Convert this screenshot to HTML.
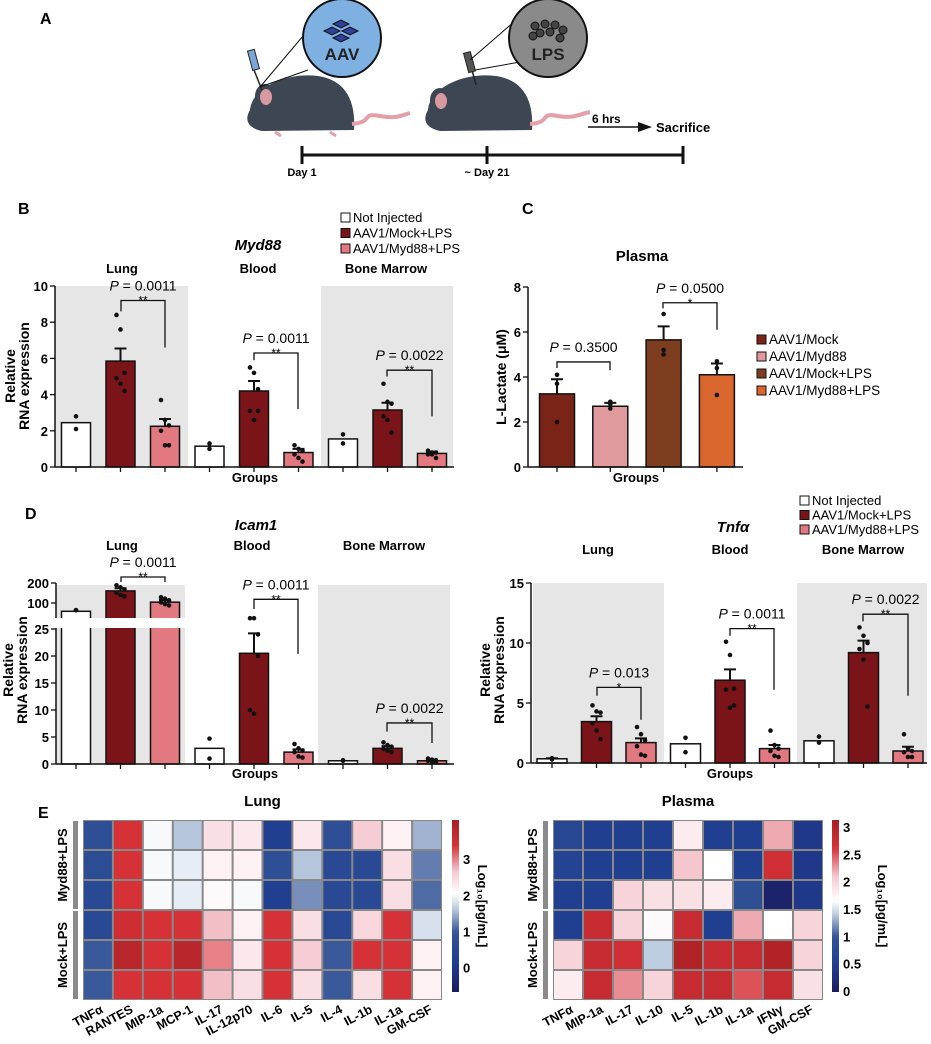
<!DOCTYPE html>
<html><head><meta charset="utf-8"><style>
html,body{margin:0;padding:0;background:#fff}
svg{display:block;font-family:"Liberation Sans",Arial,sans-serif}
</style></head><body>
<svg id="fig" xmlns="http://www.w3.org/2000/svg" width="931" height="1044" viewBox="0 0 931 1044">
<g>
<text x="40" y="24" font-size="16" font-weight="bold">A</text>
<g>
<path d="M250,110 C252,88 285,72 318,76 C345,80 356,100 354,130 L262,131 C248,128 244,120 250,110Z" fill="#3c4753"/>
<ellipse cx="265" cy="96" rx="10" ry="12" fill="#3c4753"/><ellipse cx="266" cy="97" rx="6" ry="8" fill="#d89aa0"/>
<path d="M352,124 C375,122 360,112 380,116 C395,119 400,116 410,113" stroke="#e4a0a8" stroke-width="4" fill="none"/>
<path d="M275,132 l6,4 M330,132 l6,4" stroke="#e4a0a8" stroke-width="3"/>
<line x1="262" y1="90" x2="254" y2="70" stroke="#222" stroke-width="1.5"/>
<rect x="250" y="50" width="7" height="20" fill="#7aa7d6" stroke="#222" transform="rotate(-15 253 60)"/>
<line x1="260" y1="87" x2="308" y2="70" stroke="#111"/><line x1="260" y1="87" x2="330" y2="4" stroke="#111"/>
<circle cx="342" cy="38" r="39" fill="#7fb0e2" stroke="#111" stroke-width="2"/>
<g fill="#2f3f9c" stroke="#111" stroke-width="1"><polygon points="333,24 341,20 349,24 341,28"/><polygon points="324,31 332,27 340,31 332,35"/><polygon points="342,31 350,27 358,31 350,35"/><polygon points="333,38 341,34 349,38 341,42"/></g>
<text x="342" y="60" font-size="17" font-weight="bold" text-anchor="middle" fill="#222">AAV</text>
</g>
<g>
<path d="M428,110 C430,88 463,72 496,76 C523,80 534,100 532,130 L440,131 C426,128 422,120 428,110Z" fill="#3c4753"/>
<ellipse cx="440" cy="100" rx="10" ry="12" fill="#3c4753"/><ellipse cx="441" cy="101" rx="6" ry="8" fill="#d89aa0"/>
<path d="M530,124 C553,122 538,112 558,116 C573,119 580,114 590,112" stroke="#e4a0a8" stroke-width="4" fill="none"/>
<line x1="476" y1="85" x2="472" y2="70" stroke="#222" stroke-width="1.5"/>
<rect x="466" y="52" width="7" height="20" fill="#555" stroke="#222" transform="rotate(-15 470 62)"/>
<line x1="475" y1="70" x2="520" y2="62" stroke="#111"/><line x1="470" y1="60" x2="530" y2="8" stroke="#111"/>
<circle cx="548" cy="38" r="39" fill="#8a8a8a" stroke="#111" stroke-width="2"/>
<g fill="#444" stroke="#111"><circle cx="535" cy="26" r="4"/><circle cx="545" cy="24" r="4"/><circle cx="555" cy="25" r="4"/><circle cx="563" cy="30" r="4"/><circle cx="540" cy="33" r="4"/><circle cx="550" cy="32" r="4"/><circle cx="560" cy="38" r="4"/><circle cx="533" cy="36" r="4"/></g>
<text x="548" y="60" font-size="17" font-weight="bold" text-anchor="middle" fill="#222">LPS</text>
</g>
<text x="592" y="123" font-size="12" font-weight="bold">6 hrs</text>
<line x1="588" y1="127" x2="640" y2="127" stroke="#111" stroke-width="1.5"/><polygon points="652,127 638,122 638,132" fill="#111"/>
<text x="656" y="132" font-size="13" font-weight="bold">Sacrifice</text>
<line x1="302" y1="155" x2="683" y2="155" stroke="#111" stroke-width="3"/>
<line x1="302" y1="146" x2="302" y2="164" stroke="#111" stroke-width="3"/><line x1="487" y1="146" x2="487" y2="164" stroke="#111" stroke-width="3"/><line x1="683" y1="146" x2="683" y2="164" stroke="#111" stroke-width="3"/>
<text x="302" y="176" font-size="11" font-weight="bold" text-anchor="middle">Day 1</text>
<text x="487" y="176" font-size="11" font-weight="bold" text-anchor="middle">~ Day 21</text>
</g>
</svg>
<script>
const NS='http://www.w3.org/2000/svg';
const svg=document.getElementById('fig');
function mk(tag,attrs,name,parent){const el=document.createElementNS(NS,tag);for(const k in attrs)el.setAttribute(k,attrs[k]);


(parent||svg).appendChild(el);return el;}
function tx(x,y,s,size,opt,name){const o=Object.assign({x:x,y:y,'font-size':size},opt||{});const el=mk('text',o,name);el.textContent=s;return el;}

// ---------- data ----------
const groupNames=['Lung','Blood','Bone Marrow'];
const bVals=[2.45,5.85,2.25,1.15,4.2,0.8,1.55,3.15,0.75];
const bErr=[0,0.7,0.4,0,0.55,0.2,0,0.4,0.1];
const bDots=[[2.8,2.1],[8.4,7.6,5.2,4.9,4.6,4.2],[3.7,2.6,2.3,2.0,1.2,1.2],[1.3,1.0],[5.5,5.2,3.1,3.1,2.6,4.3],[1.2,1.0,0.9,0.7,0.5,0.3],[1.8,1.3],[4.6,3.6,3.5,2.8,2.6,1.9],[0.9,0.8,0.8,0.7,0.7,0.5]];
const bTicks=[0,2,4,6,8,10];
const cCats=['AAV1/Mock','AAV1/Myd88','AAV1/Mock+LPS','AAV1/Myd88+LPS'];
const cVals=[3.25,2.7,5.65,4.1];
const cErr=[0.65,0.15,0.6,0.5];
const cDots=[[4.1,3.7,2.0],[2.9,2.8,2.6],[6.8,5.2,5.0],[4.7,4.4,3.2]];
const cTicks=[0,2,4,6,8];
const dVals=[75,152,103,2.9,20.5,2.2,0.6,2.9,0.6];
const dErr=[0,15,8,0,3.7,0.5,0,0.4,0.2];
const dDots=[[78,78],[185,172,160,142,132,126],[122,116,110,102,96,92],[4.7,1.0],[27,27,24,10,9.3,20],[3.7,2.9,2.5,2.2,1.4,1.2],[0.6,0.7],[4,3.5,3.2,2.8,2.5,2.2],[1,0.8,0.7,0.6,0.5,0.4]];
const dTicksLow=[0,5,10,15,20,25];
const dTicksHigh=[100,200];
const tVals=[0.35,3.45,1.7,1.6,6.9,1.2,1.85,9.2,1.0];
const tErr=[0.05,0.45,0.35,0,0.9,0.3,0,1.0,0.35];
const tDots=[[0.3,0.4],[4.8,4.3,4.2,3.3,2.7,2.0],[3.0,2.4,1.9,1.4,0.7,0.6],[2.1,0.9],[10.1,9.0,6.2,6.1,4.6,4.8],[2.7,1.5,1.2,1.0,0.6,0.5],[2.2,1.7],[11.3,10.6,10.0,9.5,8.6,4.7],[2.4,1.2,1.0,0.9,0.5,0.5]];
const tTicks=[0,5,10,15];
const lungCols=['TNFα','RANTES','MIP-1a','MCP-1','IL-17','IL-12p70','IL-6','IL-5','IL-4','IL-1b','IL-1a','GM-CSF'];
const lungHeat=[[0.8,3.4,2.0,1.6,2.4,2.3,0.2,2.3,0.8,2.6,2.2,1.5],[0.7,3.4,2.0,1.9,2.2,2.2,0.8,1.6,0.6,0.6,2.4,1.2],[0.6,3.4,2.0,1.9,2.1,2.0,0.2,1.3,0.6,0.6,2.4,1.1],[0.6,3.5,3.4,3.4,2.7,2.2,3.4,2.4,0.6,2.5,3.4,1.8],[1.0,3.8,3.4,3.8,3.0,2.3,3.4,2.6,1.0,3.4,3.4,2.2],[1.0,3.4,3.4,3.4,2.7,2.4,3.4,2.4,1.0,2.4,3.4,2.2]];
const plasmaCols=['TNFα','MIP-1a','IL-17','IL-10','IL-5','IL-1b','IL-1a','IFNγ','GM-CSF'];
const plasmaHeat=[[0.7,0.5,0.5,0.5,1.8,0.5,0.5,2.2,0.4],[0.6,0.5,0.5,0.5,2.1,1.65,0.5,2.7,0.4],[0.5,0.5,2.0,1.9,1.9,1.8,0.9,0.1,0.4],[0.5,2.8,2.0,1.7,2.8,0.5,2.2,1.65,2.0],[2.0,2.8,2.7,1.4,3.0,2.8,2.8,3.0,2.0],[1.8,2.8,2.3,2.0,2.8,2.8,2.5,2.8,1.9]];
const rowGroups=['Myd88+LPS','Mock+LPS'];
const lungBarTicks=[0,1,2,3];
const plasmaBarTicks=[0,0.5,1,1.5,2,2.5,3];

const C_NI='#ffffff',C_MOCK='#7b1418',C_MYD='#e27880';
const groupColors=[C_NI,C_MOCK,C_MYD];

function pText(cx,y,val,name){const t=mk('text',{x:cx,y:y,'font-size':14,'text-anchor':'middle'},name);
const a=document.createElementNS(NS,'tspan');a.setAttribute('font-style','italic');a.textContent='P';t.appendChild(a);
const b=document.createElementNS(NS,'tspan');b.textContent=' = '+val;t.appendChild(b);}
function bracket(x1,x2,yt,yl,yr,p,stars,name){
mk('path',{d:`M${x1},${yl} V${yt} H${x2} V${yr}`,fill:'none',stroke:'#111','stroke-width':1.3},name);
pText((x1+x2)/2,yt-10,p,name+'-p');tx((x1+x2)/2,yt+4,stars,12,{'text-anchor':'middle'},name+'-stars');}
function ylab(x,cy,lines,name){const t=mk('text',{transform:`translate(${x},${cy}) rotate(-90)`,'font-size':14,'font-weight':'bold','text-anchor':'middle'},name);
lines.forEach((l,i)=>{const s=document.createElementNS(NS,'tspan');s.setAttribute('x',0);s.setAttribute('dy',i?14:0);s.textContent=l;t.appendChild(s);});}
function legend(x,y,dy,labels,colors,size,name){labels.forEach((l,i)=>{mk('rect',{x:x,y:y+i*dy-9,width:9,height:9,fill:colors[i],stroke:'#111'},name+'-swatch');tx(x+12,y+i*dy,l,size,{},name+'-entry');});}

function barPanel(o){
 const xs=i=>o.x0+i*o.step;
 o.bgs.forEach(b=>mk('rect',{x:b[0],y:o.top,width:b[1]-b[0],height:o.base-o.top,fill:'#e6e6e6'},o.name+'-group-bg'));
 o.vals.forEach((v,i)=>{const x=xs(i),y=o.y(v,i);
  mk('rect',{x:x-o.w/2,y:y,width:o.w,height:o.base-y,fill:o.colors[i],stroke:'#111','stroke-width':1.5},o.name+'-bar');
  if(o.errs[i]>0){const ye=o.y(v+o.errs[i],i);mk('path',{d:`M${x},${y} V${ye} M${x-6},${ye} H${x+6}`,stroke:'#111','stroke-width':2},o.name+'-error-bar');}
  o.dots[i].forEach((d,k)=>mk('circle',{cx:x+((k%3)-1)*(o.dots[i].length>3?4:0),cy:o.y(d,i),r:2.3,fill:'#111'},o.name+'-point'));
  mk('line',{x1:x,y1:o.base,x2:x,y2:o.base+5,stroke:'#111','stroke-width':1.3},o.name+'-x-tick');
 });
 mk('line',{x1:o.xa0,y1:o.base,x2:o.xa1,y2:o.base,stroke:'#111','stroke-width':1.5},o.name+'-x-axis');
}
function yAxis(x,y0,y1,ticks,yf,name){mk('line',{x1:x,y1:y0,x2:x,y2:y1,stroke:'#111','stroke-width':1.5},name);
 ticks.forEach(t=>{const y=yf(t);mk('line',{x1:x-5,y1:y,x2:x,y2:y,stroke:'#111','stroke-width':1.3},name+'-tick');tx(x-7,y+5,String(t),13,{'text-anchor':'end','font-weight':'bold'},name+'-tick-label');});}

// ---------- Panel B ----------
tx(18,214,'B',16,{'font-weight':'bold'},'panel-b-label');
const yB=v=>467-v*18.1;
barPanel({name:'myd88',x0:76,step:44.5,w:29,base:467,top:286,xa0:55,xa1:454,y:yB,vals:bVals,errs:bErr,dots:bDots,colors:[0,1,2,0,1,2,0,1,2].map(i=>groupColors[i]),bgs:[[55,188],[321,453]]});
yAxis(55,467,286,bTicks,yB,'myd88-y-axis');
ylab(15,376,['Relative','RNA expression'],'myd88-y-title');
tx(255,482,'Groups',13,{'text-anchor':'middle','font-weight':'bold'},'myd88-x-title');
tx(258,250,'Myd88',15,{'text-anchor':'middle','font-weight':'bold','font-style':'italic'},'myd88-title');
[122,258,386].forEach((x,i)=>tx(x,273,groupNames[i],13,{'text-anchor':'middle','font-weight':'bold'},'myd88-group-title'));
legend(341,222,15.5,['Not Injected','AAV1/Mock+LPS','AAV1/Myd88+LPS'],groupColors,13,'myd88-legend');
bracket(121,165,yB(9.2),yB(8.6),yB(6.6),'0.0011','**','myd88-lung-sig');
bracket(254,298,yB(6.3),yB(5.9),yB(3.2),'0.0011','**','myd88-blood-sig');
bracket(387,432,yB(5.35),yB(5.0),yB(2.8),'0.0022','**','myd88-bm-sig');

// ---------- Panel C ----------
tx(522,214,'C',16,{'font-weight':'bold'},'panel-c-label');
const yC=v=>467-v*22.5;
barPanel({name:'lactate',x0:557,step:53.3,w:35,base:467,top:287,xa0:528,xa1:743,y:yC,vals:cVals,errs:cErr,dots:cDots,colors:['#7a2418','#e09a9e','#7e3d1e','#d9662c'],bgs:[]});
yAxis(528,467,287,cTicks,yC,'lactate-y-axis');
mk('text',{transform:'translate(506,377) rotate(-90)','font-size':14,'font-weight':'bold','text-anchor':'middle'},'lactate-y-title').textContent='L-Lactate (μM)';
tx(636,482,'Groups',13,{'text-anchor':'middle','font-weight':'bold'},'lactate-x-title');
tx(642,261,'Plasma',15,{'text-anchor':'middle','font-weight':'bold'},'lactate-title');
legend(757,344,17,cCats,['#7a2418','#e09a9e','#7e3d1e','#d9662c'],13.5,'lactate-legend');
bracket(557,610,yC(4.67),yC(4.4),yC(4.3),'0.3500','','lactate-sig-1');
bracket(663,717,yC(7.3),yC(7.05),yC(6.1),'0.0500','*','lactate-sig-2');

// ---------- Panel D left (Icam1) ----------
tx(25,519,'D',16,{'font-weight':'bold'},'panel-d-label');
const yD=(v,i)=>(i<3&&v>25)?603-20*Math.log2(v/100):764-v*5.4;
barPanel({name:'icam1',x0:76,step:44.5,w:29,base:764,top:585,xa0:56,xa1:454,y:yD,vals:dVals,errs:dErr,dots:dDots,colors:[0,1,2,0,1,2,0,1,2].map(i=>groupColors[i]),bgs:[[56,185],[318,450]]});
mk('rect',{x:50,y:618,width:140,height:10,fill:'#fff'},'icam1-axis-break');
mk('line',{x1:56,y1:628,x2:56,y2:764,stroke:'#111','stroke-width':1.5},'icam1-y-axis');
mk('line',{x1:56,y1:583,x2:56,y2:618,stroke:'#111','stroke-width':1.5},'icam1-y-axis-upper');
dTicksLow.forEach(t=>{const y=yD(t,9);mk('line',{x1:51,y1:y,x2:56,y2:y,stroke:'#111','stroke-width':1.3},'icam1-y-tick');tx(49,y+5,String(t),13,{'text-anchor':'end','font-weight':'bold'},'icam1-y-tick-label');});
dTicksHigh.forEach(t=>{const y=yD(t,0);mk('line',{x1:51,y1:y,x2:56,y2:y,stroke:'#111','stroke-width':1.3},'icam1-y-tick');tx(49,y+5,String(t),13,{'text-anchor':'end','font-weight':'bold'},'icam1-y-tick-label');});
ylab(13,670,['Relative','RNA expression'],'icam1-y-title');
tx(255,778,'Groups',13,{'text-anchor':'middle','font-weight':'bold'},'icam1-x-title');
tx(256,530,'Icam1',15,{'text-anchor':'middle','font-weight':'bold','font-style':'italic'},'icam1-title');
[122,252,384].forEach((x,i)=>tx(x,550,groupNames[i],13,{'text-anchor':'middle','font-weight':'bold'},'icam1-group-title'));
bracket(121,165,577,582,582,'0.0011','**','icam1-lung-sig');
bracket(254,298,yD(30.5,9),yD(28.7,9),yD(20.4,9),'0.0011','**','icam1-blood-sig');
bracket(387,432,yD(7.6,9),yD(6.0,9),yD(3.9,9),'0.0022','**','icam1-bm-sig');

// ---------- Panel D right (Tnfa) ----------
const yT=v=>763-v*12;
barPanel({name:'tnfa',x0:552,step:44.5,w:30,base:763,top:583,xa0:531,xa1:927,y:yT,vals:tVals,errs:tErr,dots:tDots,colors:[0,1,2,0,1,2,0,1,2].map(i=>groupColors[i]),bgs:[[533,664],[797,927]]});
yAxis(531,763,583,tTicks,yT,'tnfa-y-axis');
ylab(490,670,['Relative','RNA expression'],'tnfa-y-title');
tx(730,778,'Groups',13,{'text-anchor':'middle','font-weight':'bold'},'tnfa-x-title');
tx(733,532,'Tnfα',15,{'text-anchor':'middle','font-weight':'bold','font-style':'italic'},'tnfa-title');
[598,730,863].forEach((x,i)=>tx(x,554,groupNames[i],13,{'text-anchor':'middle','font-weight':'bold'},'tnfa-group-title'));
legend(800,505,14.5,['Not Injected','AAV1/Mock+LPS','AAV1/Myd88+LPS'],groupColors,13,'tnfa-legend');
bracket(597,641,yT(6.3),yT(5.6),yT(3.6),'0.013','*','tnfa-lung-sig');
bracket(730,774,yT(11.2),yT(10.6),yT(6.1),'0.0011','**','tnfa-blood-sig');
bracket(863,908,yT(12.4),yT(11.8),yT(5.6),'0.0022','**','tnfa-bm-sig');

// ---------- Panel E ----------
tx(38,818,'E',16,{'font-weight':'bold'},'panel-e-label');
function lerp(a,b,t){return a.map((v,i)=>Math.round(v+(b[i]-v)*t));}
const lowStops=[[0,[27,27,94]],[0.3,[32,62,145]],[0.6,[50,82,150]],[0.85,[190,205,225]],[1,[255,255,255]]];
const highStops=[[0,[255,255,255]],[0.3,[245,200,208]],[0.65,[215,50,55]],[1,[165,30,35]]];
function interp(st,s){s=Math.max(0,Math.min(1,s));for(let i=1;i<st.length;i++){if(s<=st[i][0]){const a=st[i-1],b=st[i];return `rgb(${lerp(a[1],b[1],(s-a[0])/(b[0]-a[0]))})`;}}return `rgb(${st[st.length-1][1]})`;}
function cmap(t,w){return t<w?interp(lowStops,t/w):interp(highStops,(t-w)/(1-w));}
function heat(o){
 const nc=o.cols.length,cw=(o.x1-o.x0)/nc,ch=(o.y1-o.y0)/6;
 const w=(o.mid-o.min)/(o.max-o.min);
 const tOf=v=>(v-o.min)/(o.max-o.min);
 mk('rect',{x:o.x0,y:o.y0,width:o.x1-o.x0,height:o.y1-o.y0,fill:'#888'},o.name+'-frame');
 o.data.forEach((row,r)=>row.forEach((v,c)=>mk('rect',{x:o.x0+c*cw+1,y:o.y0+r*ch+1,width:cw-2,height:ch-2,fill:cmap(tOf(v),w)},o.name+'-cell')));
 o.cols.forEach((l,c)=>{const x=o.x0+(c+0.5)*cw+6;mk('text',{transform:`translate(${x},${o.y1+12}) rotate(-28)`,'font-size':12.5,'font-weight':'bold','text-anchor':'end'},o.name+'-col-label').textContent=l;});
 rowGroups.forEach((g,i)=>{const ya=o.y0+i*3*ch+1,yb=ya+3*ch-2;mk('rect',{x:o.x0-10,y:ya,width:5,height:yb-ya,fill:'#8a8a8a'},o.name+'-row-group-bar');
  mk('text',{transform:`translate(${o.x0-16},${(ya+yb)/2}) rotate(-90)`,'font-size':13,'font-weight':'bold','text-anchor':'middle'},o.name+'-row-group-label').textContent=g;});
 const g=mk('defs',{},o.name+'-defs');const lg=mk('linearGradient',{id:o.name+'g',x1:0,y1:1,x2:0,y2:0},o.name+'-gradient',g);
 for(let i=0;i<=40;i++){mk('stop',{offset:i/40,'stop-color':cmap(i/40,w)},o.name+'-stop',lg);}
 mk('rect',{x:o.cbx,y:o.y0,width:7,height:172,fill:`url(#${o.name}g)`},o.name+'-colorbar');
 o.ticks.forEach(t=>{const y=o.y0+172-tOf(t)*172;tx(o.cbx+11,y+5,String(t),13,{'font-weight':'bold'},o.name+'-colorbar-tick');});
 mk('text',{transform:`translate(${o.labx},${o.y0+86}) rotate(90)`,'font-size':13,'font-weight':'bold','text-anchor':'middle'},o.name+'-colorbar-title').textContent='Log₁₀[pg/mL]';
 tx((o.x0+o.x1)/2,o.y0-14,o.title,15,{'text-anchor':'middle','font-weight':'bold'},o.name+'-title');
}
heat({name:'lung-heatmap',title:'Lung',cols:lungCols,data:lungHeat,x0:83,x1:442,y0:820,y1:1000,min:-0.67,mid:2.05,max:4.08,cbx:452,ticks:lungBarTicks,labx:478});
heat({name:'plasma-heatmap',title:'Plasma',cols:plasmaCols,data:plasmaHeat,x0:553,x1:823,y0:820,y1:1000,min:-0.02,mid:1.65,max:3.13,cbx:832,ticks:plasmaBarTicks,labx:878});
</script>
</body></html>
